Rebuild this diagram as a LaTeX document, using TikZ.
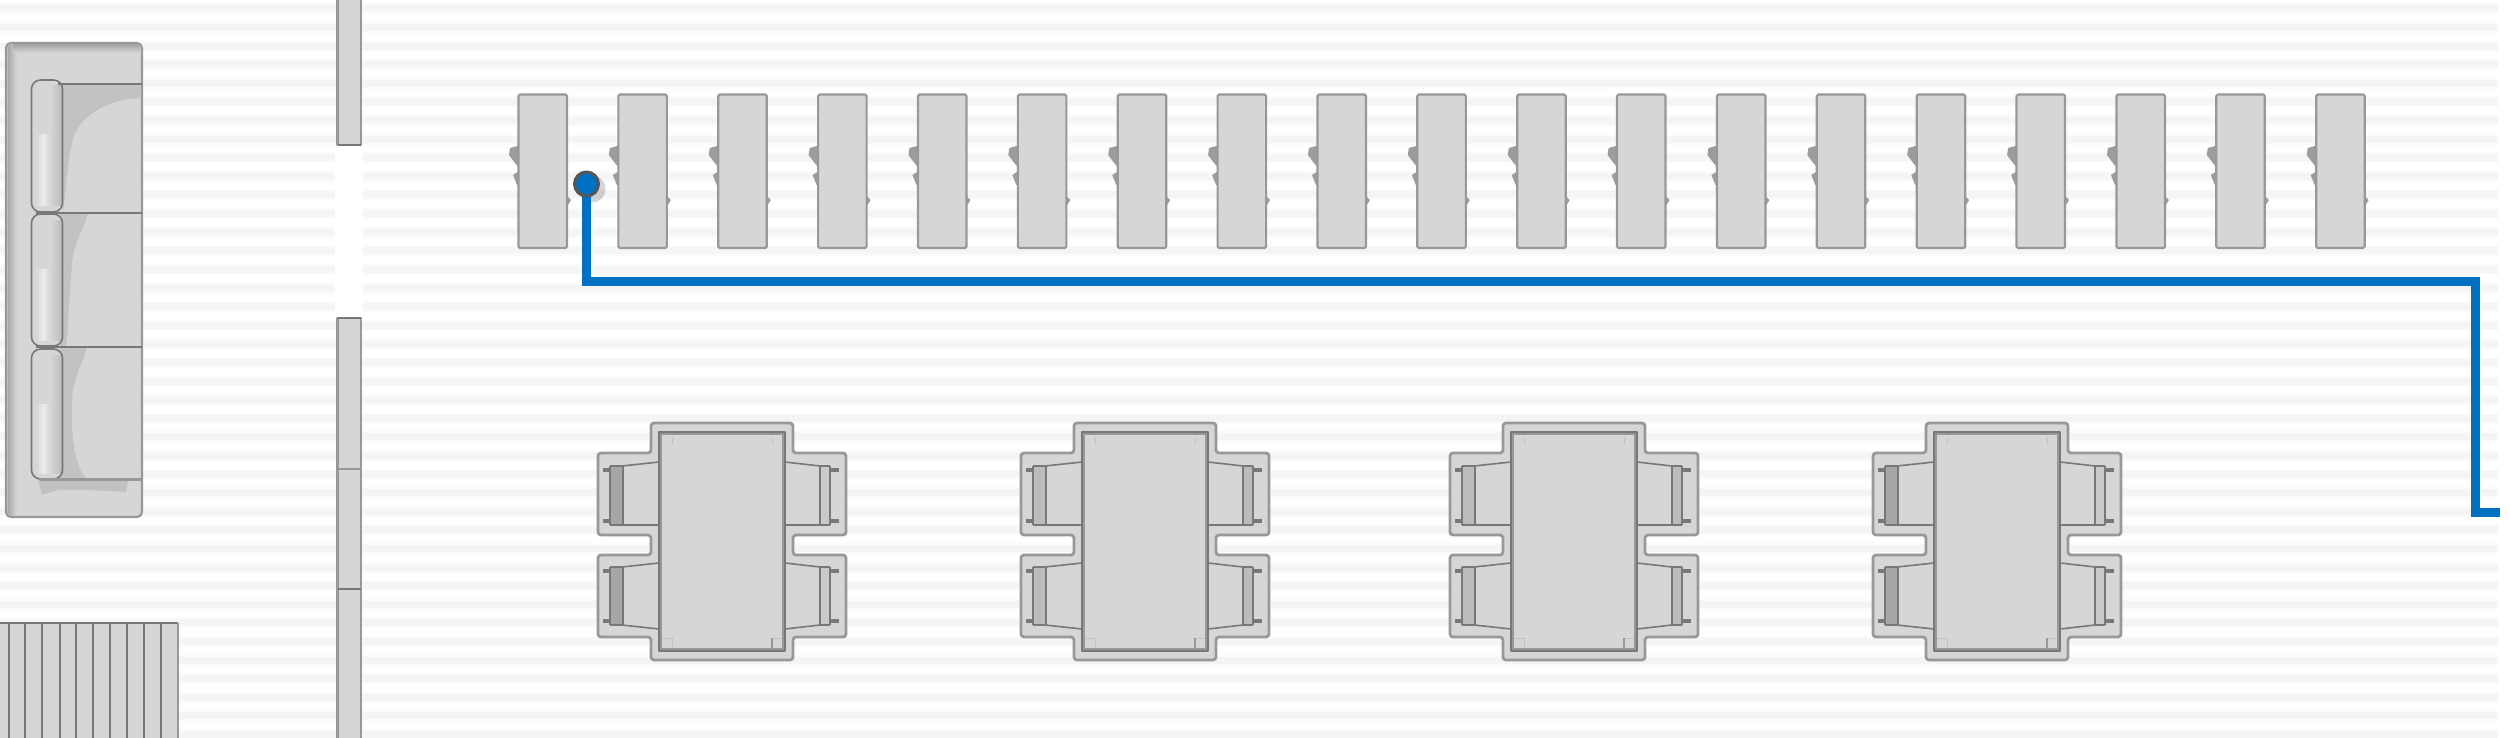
\documentclass[tikz,border=0pt]{standalone}
\definecolor{stripeA}{HTML}{F5F5F5}
\definecolor{stripeB}{HTML}{FBFBFB}
\definecolor{body}{HTML}{D6D6D6}
\definecolor{edge}{HTML}{989898}
\definecolor{edgeD}{HTML}{787878}
\definecolor{shadeS}{HTML}{C2C2C2}
\definecolor{wire}{HTML}{0070C0}
\definecolor{ring}{HTML}{555555}
\definecolor{bandA}{HTML}{A6A6A6}
\definecolor{bandB}{HTML}{BCBCBC}
\definecolor{bandC}{HTML}{CACACA}
\definecolor{knob}{HTML}{9C9C9C}
\tikzset{
  furn/.style={fill=body,draw=edge,line width=2.2pt,line join=round},
  thin edge/.style={draw=edgeD,line width=1.6pt},
  faint/.style={draw=shadeS,line width=1pt},
  wirepath/.style={draw=wire,line width=9pt,line join=miter},
  dotnode/.style={circle,fill=wire,draw=ring,line width=3pt,minimum size=24pt,inner sep=0pt},
}
\begin{document}
\begin{tikzpicture}[x=1pt,y=-1pt]
\useasboundingbox (0,0) rectangle (2510,738);
\fill[white] (0,0) rectangle (2510,738);
% stripes
\foreach \k in {0,...,39}{
  \fill[stripeB] (0,{3.5+18.6*\k}) rectangle (2498,{14.5+18.6*\k});
  \fill[stripeA] (0,{5.5+18.6*\k}) rectangle (2498,{12.5+18.6*\k});
}
% wall
\fill[white] (335,145) rectangle (363,318);
\draw[furn] (337.5,-5) rectangle (361,145);
\draw[furn] (337.5,318) rectangle (361,745);
\draw[edgeD,line width=2pt] (337.5,145) -- (361,145);
\draw[edgeD,line width=2pt] (337.5,318) -- (361,318);
\draw[edge,line width=1.5pt] (337.5,469) -- (361,469);
\draw[edgeD,line width=2.5pt] (337.5,589) -- (361,589);
% sofa
\draw[furn,rounded corners=5pt] (6,43) rectangle (142,517);
\shade[left color=bandA,right color=body,rounded corners=4pt] (7.5,44.5) rectangle (17,515.5);
\shade[top color=bandA,bottom color=body] (13,44.5) rectangle (141,53);
\fill[body!90!black] (38,480) -- (128,480) -- (126,492) -- (85,490) -- (58,490) -- (42,495) -- cycle;
\fill[shadeS] (60,84) -- (141,84) -- (141,98) .. controls (113,99) and (87,110) .. (75,133) .. controls (68,150) and (66,190) .. (63,212) -- cycle;
\fill[shadeS] (60,213) -- (88,213) .. controls (84,228) and (76,240) .. (73,255) .. controls (70,280) and (69,320) .. (66,347) -- (60,347) -- cycle;
\fill[shadeS] (60,347) -- (87,347) .. controls (84,360) and (76,372) .. (73,390) .. controls (70,420) and (72,465) .. (86,478) -- (60,478) -- cycle;
\foreach \t/\b in {80/212,214/346,349/479}{
  \fill[body,rounded corners=9pt] (32,\t) rectangle (62,\b);
  \shade[left color=body,right color=body,middle color=white!55!body] (36,{\t+55}) rectangle (50,{\b-6});
  \shade[left color=body,right color=bandB] (50,{\t+6}) rectangle (62,{\b-6});
  \draw[thin edge,rounded corners=9pt] (31.5,\t) rectangle (62.5,\b);
}
\draw[edgeD,line width=2pt] (58,84) -- (142,84);
\draw[edgeD,line width=2pt] (36,213) -- (142,213);
\draw[edgeD,line width=2pt] (36,347) -- (142,347);
\draw[edge,line width=3pt] (40,479) -- (142,479);
% rug
\fill[body] (-3,623) rectangle (178,745);
\draw[edgeD,line width=2.2pt] (-3,623) -- (178,623);
\draw[edge,line width=2pt] (178,623) -- (178,745);
\foreach \x in {9,25,42,60,76,93,110,127,144,161}{
  \draw[edgeD,line width=2.4pt] (\x,623) -- (\x,745);
}
% row of chairs
\foreach \i in {0,...,18}{
  \begin{scope}[xshift={\i*99.87pt}]
    \fill[knob] (521,145) -- (510,148) -- (509,155) -- (515,163) -- (521,170) -- (513,175) -- (517,185) -- (521,185) -- cycle;
    \fill[knob] (566,195) -- (571,200) -- (566,208) -- cycle;
    \draw[furn,rounded corners=1.5pt] (518.5,94.5) rectangle (567,248);
  \end{scope}
}
% dining tables
\foreach \cx/\lb/\rb in {722/bandA/bandC,1145/bandB/bandB,1574/bandB/bandB,1997/bandA/bandC}{
  \begin{scope}[xshift=\cx pt]
    \path[furn,line width=2.8pt,rounded corners=3pt] (-71,423) -- (71,423) -- (71,453) -- (124,453) -- (124,535) -- (71,535) -- (71,555) -- (124,555) -- (124,637) -- (71,637) -- (71,660) -- (-71,660) -- (-71,637) -- (-124,637) -- (-124,555) -- (-71,555) -- (-71,535) -- (-124,535) -- (-124,453) -- (-71,453) -- cycle;
    % chairs on both sides
    \foreach \tt/\ta/\bb/\bt/\pa/\pb in {466/462/525/525/470/521, 567/563/625/629/571/621}{
      \fill[\lb] (-112,\tt) rectangle (-99,\bb);
      \fill[\rb] (98,\tt) rectangle (107,\bb);
      \draw[thin edge] (-63,\ta) -- (-100,\tt) -- (-112,\tt);
      \draw[thin edge] (-63,\bt) -- (-100,\bb) -- (-112,\bb);
      \draw[thin edge] (-99,\tt) -- (-99,\bb);
      \draw[thin edge] (-112,\tt) -- (-112,\bb);
      \draw[edgeD,line width=4pt] (-119,\pa) -- (-113,\pa);
      \draw[edgeD,line width=4pt] (-119,\pb) -- (-113,\pb);
      \draw[thin edge] (63,\ta) -- (98,\tt) -- (108,\tt);
      \draw[thin edge] (63,\bt) -- (98,\bb) -- (108,\bb);
      \draw[thin edge] (98,\tt) -- (98,\bb);
      \draw[thin edge] (108,\tt) -- (108,\bb);
      \draw[edgeD,line width=4pt] (108,\pa) -- (117,\pa);
      \draw[edgeD,line width=4pt] (108,\pb) -- (117,\pb);
    }
    % table top
    \draw[furn,draw=edgeD,line width=1.8pt] (-63,432) rectangle (63,651);
    \draw[edge,line width=1.6pt] (-61,434) rectangle (61,649);
    \draw[faint] (-50,438) -- (-50,445);
    \draw[faint] (50,438) -- (50,445);
    \draw[faint] (-60,638) -- (-50,638) -- (-50,648);
    \draw[faint] (50,638) -- (60,638);
    \draw[edge,line width=1.2pt] (50,638) -- (50,648);
  \end{scope}
}
% connector
\fill[black,opacity=0.16] (592,189) circle (13.5pt);
\node[dotnode] (dot) at (586.5,184) {};
\coordinate (c1) at (dot.south |- 0,281.5);
\coordinate (c2) at (2475.5,281.5);
\coordinate (c3) at (2475.5,512.5);
\coordinate (c4) at (2500,512.5);
\draw[wirepath] (dot.south) -- (c1) -- (c2) -- (c3) -- (c4);
\end{tikzpicture}
\end{document}
